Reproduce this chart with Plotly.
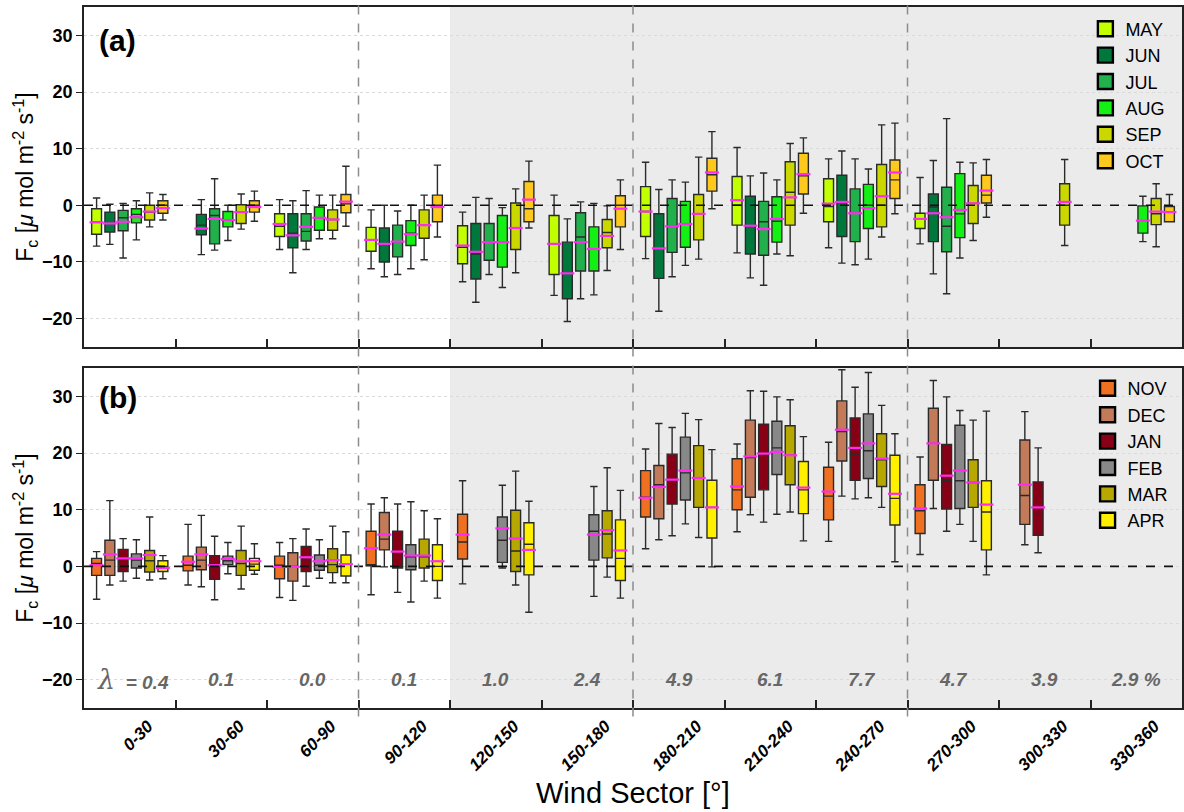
import plotly.graph_objects as go

# ---------------- data ----------------
SECTORS = ["0-30", "30-60", "60-90", "90-120", "120-150", "150-180",
           "180-210", "210-240", "240-270", "270-300", "300-330", "330-360"]
LAMBDA = ["0.4", "0.1", "0.0", "0.1", "1.0", "2.4", "4.9", "6.1", "7.7", "4.7", "3.9", "2.9 %"]

MONTHS_A = ["MAY", "JUN", "JUL", "AUG", "SEP", "OCT"]
COLORS_A = ["#c2ff00", "#00783c", "#22b04c", "#14ef14", "#cbd800", "#ffc81c"]
MONTHS_B = ["NOV", "DEC", "JAN", "FEB", "MAR", "APR"]
COLORS_B = ["#ef7020", "#c27a58", "#870016", "#888888", "#b6a800", "#fff000"]

# each entry: (lower whisker, q1, median, q3, upper whisker, mean); None = no data
MAY = [(-7.2, -5.1, -3.0, -0.6, 1.3, -3.0), None, (-7.8, -5.5, -3.7, -1.5, 1.0, -3.3),
       (-11.2, -8.1, -6.1, -3.9, -0.8, -6.1), (-13.5, -10.3, -7.4, -3.6, -1.2, -7.1),
       (-15.9, -12.2, -6.8, -1.8, 1.8, -6.8), (-9.4, -5.5, -1.1, 3.3, 7.6, -1.1),
       (-8.4, -3.5, 0.0, 5.1, 10.2, 0.9), (-7.5, -2.9, -0.2, 4.7, 8.2, 0.3),
       (-6.8, -4.1, -2.4, -1.4, 4.9, -2.4), None, None]
JUN = [(-6.9, -4.7, -3.2, -1.2, 0.2, -3.2), (-8.7, -5.2, -3.5, -1.6, 1.0, -4.1),
       (-11.9, -7.5, -4.9, -1.5, 0.8, -5.3), (-12.6, -10.0, -6.8, -4.0, 0.0, -6.8),
       (-17.1, -13.0, -8.6, -3.2, 1.4, -8.2), (-20.5, -16.5, -12.0, -6.5, -2.4, -12.0),
       (-18.7, -12.9, -7.6, -1.5, 2.8, -7.6), (-12.8, -8.6, -3.6, 1.6, 5.2, -3.6),
       (-10.2, -5.5, 0.6, 5.3, 9.6, 0.6), (-12.1, -6.4, -0.3, 2.0, 7.9, -1.4), None, None]
JUL = [(-9.3, -4.5, -2.2, -0.9, 0.35, -2.9), (-7.9, -6.8, -1.8, -0.6, 4.7, -2.4),
       (-7.8, -6.3, -4.6, -1.5, 2.6, -3.8), (-12.2, -9.1, -6.4, -3.5, -1.0, -6.4),
       (-12.2, -9.7, -6.4, -3.2, 1.2, -6.5), (-16.5, -11.6, -5.6, -1.3, 0.6, -6.5),
       (-12.6, -8.3, -3.7, 1.2, 4.5, -3.7), (-14.1, -8.8, -2.9, 0.7, 5.7, -4.2),
       (-10.5, -6.4, -1.4, 2.9, 8.2, -1.4), (-15.6, -8.2, -3.7, 3.2, 15.3, -2.1), None, None]
AUG = [(-6.1, -3.1, -1.6, -0.6, 0.8, -2.1), (-6.2, -3.8, -2.6, -1.1, 0.0, -2.6),
       (-5.9, -4.4, -2.2, -0.3, 1.8, -2.2), (-11.2, -7.1, -4.9, -2.7, 0.0, -5.1),
       (-14.5, -10.9, -6.5, -1.8, -0.4, -6.5), (-15.8, -11.6, -7.7, -3.8, 0.35, -7.7),
       (-10.6, -7.4, -3.3, 0.7, 4.1, -3.3), (-8.6, -6.5, -2.8, 1.5, 4.5, -2.4),
       (-9.5, -4.1, 0.0, 3.7, 6.4, -0.5), (-9.3, -5.7, -1.5, 5.6, 7.6, -0.8), None,
       (-6.4, -4.9, -2.7, -0.1, 1.6, -2.7)]
SEP = [(-3.8, -2.6, -1.2, 0.0, 2.2, -1.1), (-4.2, -3.2, -1.2, 0.1, 2.0, -1.2),
       (-5.9, -4.4, -2.5, -0.8, 1.8, -2.5), (-9.6, -5.8, -3.5, -0.8, 1.8, -3.5),
       (-11.9, -7.8, -4.0, 0.4, 2.9, -4.0), (-11.5, -7.5, -4.8, -2.5, -0.1, -5.4),
       (-9.5, -6.1, -1.5, 1.9, 8.5, -1.5), (-8.9, -3.5, 2.3, 7.7, 10.9, 1.4),
       (-5.6, -3.8, 0.0, 7.2, 14.2, 1.6), (-6.2, -3.2, 0.35, 3.5, 7.5, 0.35),
       (-7.1, -3.5, 0.0, 3.8, 8.1, 0.6), (-7.3, -3.4, -1.5, 1.2, 3.8, -1.1)]
OCT = [(-2.6, -1.4, 0.0, 0.8, 1.9, -0.5), (-2.8, -1.2, 0.0, 0.8, 2.5, -0.3),
       (-3.7, -1.3, 0.25, 1.9, 6.9, 0.65), (-5.6, -2.9, 0.0, 1.8, 7.1, -0.3),
       (-4.0, -2.9, -0.6, 4.2, 7.8, 1.0), (-7.8, -3.8, 0.0, 1.7, 4.5, -0.6),
       (-0.6, 2.5, 5.4, 8.3, 13.0, 5.8), (-1.4, 2.0, 5.2, 9.2, 11.9, 5.5),
       (-1.5, 1.2, 4.5, 8.0, 14.5, 5.8), (-2.1, 0.4, 1.8, 5.3, 8.1, 2.6), None,
       (-2.9, -2.9, -1.2, -0.2, 1.9, -1.2)]

NOV = [(-5.8, -1.6, 0.5, 1.4, 2.6, 0.2), (-3.3, -0.8, 0.2, 1.8, 7.4, 0.8),
       (-5.5, -2.2, 0.2, 1.8, 4.2, -0.1), (-5.0, 0.1, 0.2, 6.2, 11.0, 3.2),
       (-3.1, 1.3, 4.3, 9.2, 15.1, 5.6), None, (3.1, 8.7, 12.2, 16.9, 20.7, 12.1),
       (6.1, 10.0, 13.5, 19.0, 21.6, 14.1), (4.4, 8.2, 12.4, 17.5, 21.9, 13.2),
       (2.1, 5.8, 9.8, 14.4, 19.3, 10.2), None, None]
DEC = [(-3.3, -1.6, 1.1, 4.6, 11.6, 2.1), (-3.6, -0.6, 1.1, 3.4, 9.0, 2.1),
       (-6.0, -2.6, 0.0, 2.4, 4.9, -0.1), (-0.1, 2.9, 4.8, 9.5, 12.1, 5.6), None, None,
       (4.7, 8.4, 14.4, 17.8, 25.2, 14.0), (9.1, 12.2, 19.2, 25.8, 31.0, 19.4),
       (12.4, 18.6, 23.8, 29.2, 34.7, 24.1), (10.2, 15.2, 21.7, 27.9, 32.8, 21.7),
       (3.8, 7.4, 12.5, 22.3, 27.3, 14.4), None]
JAN = [(-2.6, -0.9, 1.4, 3.0, 4.9, 1.4), (-5.9, -2.3, 0.2, 1.9, 5.3, 0.2),
       (-3.5, -0.9, 1.2, 3.5, 6.6, 1.6), (-4.6, -0.3, 0.0, 6.2, 11.0, 2.6), None, None,
       (5.4, 11.0, 15.3, 19.8, 24.5, 15.3), (7.8, 13.5, 19.9, 25.1, 30.9, 19.9),
       (11.9, 15.2, 19.8, 26.2, 31.6, 20.9), (6.2, 10.1, 15.1, 21.5, 29.9, 16.0),
       (2.4, 5.5, 9.3, 14.9, 20.9, 10.4), None]
FEB = [(-2.1, -0.3, 1.1, 2.2, 4.7, 1.4), (-1.3, 0.3, 1.0, 1.8, 4.2, 1.3),
       (-2.1, -0.7, 0.2, 2.0, 4.7, 0.9), (-6.3, -0.6, 1.7, 3.8, 11.4, 1.9),
       (-0.3, 0.7, 4.6, 8.7, 14.3, 6.7), (-5.3, 1.1, 6.2, 9.1, 14.1, 5.6),
       (7.5, 11.7, 16.5, 22.8, 27.0, 16.9), (9.2, 16.2, 20.9, 25.6, 29.9, 20.2),
       (12.1, 15.5, 20.4, 26.9, 34.2, 21.7), (7.4, 10.2, 15.1, 24.9, 27.5, 16.9), None, None]
MAR = [(-2.4, -1.0, 1.0, 2.8, 8.7, 2.0), (-4.0, -1.6, 0.5, 2.8, 7.1, 0.9),
       (-2.9, -1.1, 0.3, 3.1, 7.1, 1.1), (-2.6, -0.3, 1.7, 4.8, 9.8, 1.9),
       (-3.3, -0.9, 2.7, 9.9, 16.8, 4.9), (-1.9, 1.5, 5.7, 9.8, 17.4, 6.4),
       (5.1, 10.4, 15.6, 21.3, 25.9, 15.6), (9.6, 14.4, 19.6, 24.8, 29.4, 19.6),
       (10.4, 14.1, 18.8, 23.4, 28.4, 19.0), (4.4, 10.4, 14.8, 18.8, 25.8, 14.8), None, None]
APR = [(-2.2, -0.9, 0.0, 1.0, 1.9, -0.3), (-1.4, -0.7, 0.4, 1.4, 4.0, 0.9),
       (-2.9, -1.7, 0.4, 2.0, 6.1, 0.4), (-5.6, -2.5, 0.0, 3.8, 8.4, 0.9),
       (-8.1, -1.5, 3.9, 7.7, 11.5, 2.9), (-5.6, -2.5, 1.4, 8.2, 13.4, 2.8),
       (-0.1, 5.0, 10.4, 15.2, 20.6, 10.4), (4.5, 9.3, 13.5, 18.5, 22.9, 13.9),
       (0.8, 7.3, 12.0, 19.6, 23.4, 12.8), (-1.5, 2.9, 9.6, 15.1, 27.4, 10.9), None, None]

DATA_A = [MAY, JUN, JUL, AUG, SEP, OCT]
DATA_B = [NOV, DEC, JAN, FEB, MAR, APR]

# ---------------- styling ----------------
STEP = 0.145
BW = 0.108
LABEL_SHIFT = 0.2
FONT = "Liberation Sans, Arial, sans-serif"
SHADE = "#ebebeb"

fig = go.Figure()


def add_panel(months, colors, data, xa, ya, legend):
    for k, (m, c, series) in enumerate(zip(months, colors, data)):
        idx = [i for i, d in enumerate(series) if d is not None]
        xs = [i + 0.5 + (k - 2.5) * STEP for i in idx]
        vals = [series[i] for i in idx]
        fig.add_trace(go.Box(
            x=xs, lowerfence=[v[0] for v in vals], q1=[v[1] for v in vals],
            median=[v[2] for v in vals], q3=[v[3] for v in vals],
            upperfence=[v[4] for v in vals], width=BW, whiskerwidth=0.75,
            fillcolor=c, line=dict(color="#2a2a2a", width=1.4), boxpoints=False,
            xaxis=xa, yaxis=ya, showlegend=False, name=m))
        fig.add_trace(go.Scatter(
            x=xs, y=[v[5] for v in vals], mode="markers",
            marker=dict(symbol="line-ew", size=10, color="#ff2bf0",
                        line=dict(color="#ff2bf0", width=2.2)),
            xaxis=xa, yaxis=ya, showlegend=False, hoverinfo="skip"))
        fig.add_trace(go.Scatter(
            x=[None], y=[None], mode="markers", name=m, legend=legend,
            marker=dict(symbol="square", size=15, color=c,
                        line=dict(color="black", width=2.4)),
            xaxis=xa, yaxis=ya))


add_panel(MONTHS_A, COLORS_A, DATA_A, "x", "y", "legend")
add_panel(MONTHS_B, COLORS_B, DATA_B, "x2", "y2", "legend2")

label_pos = [i + 0.5 + LABEL_SHIFT for i in range(12)]
xcommon = dict(range=[0, 12], showline=True, mirror=True, linecolor="#222",
               linewidth=1.5, showgrid=False, zeroline=False, ticks="",
               minor=dict(tickvals=list(range(1, 12)), ticks="inside",
                          ticklen=8, tickwidth=1.5, tickcolor="#222"))
ycommon = dict(range=[-25, 35], tickvals=[-20, -10, 0, 10, 20, 30],
               ticks="outside", ticklen=6, tickwidth=1.3, tickcolor="#222",
               tickfont=dict(family=FONT, size=18, color="black", weight="bold"),
               showline=True, mirror=True, linecolor="#222", linewidth=1.5,
               showgrid=True, gridcolor="#dadada", griddash="dot", gridwidth=1,
               zeroline=False)

shapes = []
for xa, ya in (("x", "y"), ("x2", "y2")):
    shapes.append(dict(type="rect", xref=xa, yref=ya + " domain", x0=4, x1=12,
                       y0=0, y1=1, fillcolor=SHADE, line=dict(width=0),
                       layer="below"))
    shapes.append(dict(type="line", xref=xa + " domain", yref=ya, x0=0, x1=1,
                       y0=0, y1=0, line=dict(color="#111", width=1.6, dash="dash"),
                       layer="above"))
for xv in (3, 6, 9):
    shapes.append(dict(type="line", xref="x2", yref="paper", x0=xv, x1=xv,
                       y0=-0.012, y1=1.008,
                       line=dict(color="#8c8c8c", width=1.5, dash="dash"),
                       layer="above"))

annotations = []
annotations.append(dict(text="<b>(a)</b>", xref="x domain", yref="y domain",
                        x=0.012, y=0.9, xanchor="left", yanchor="middle",
                        showarrow=False, font=dict(family=FONT, size=30, color="black")))
annotations.append(dict(text="<b>(b)</b>", xref="x2 domain", yref="y2 domain",
                        x=0.012, y=0.912, xanchor="left", yanchor="middle",
                        showarrow=False, font=dict(family=FONT, size=30, color="black")))
ytitle = "F<sub>c</sub> [<i>μ</i> mol m<sup>-2</sup> s<sup>-1</sup>]"
for ya in ("y", "y2"):
    annotations.append(dict(text=ytitle, xref="paper", yref=ya + " domain",
                            x=-0.054, y=0.5, xanchor="center", yanchor="middle",
                            textangle=-90, showarrow=False,
                            font=dict(family=FONT, size=23, color="black")))
for i, lab in enumerate(LAMBDA):
    txt = lab
    xoff = 0.0
    if i == 0:
        txt = ('<span style="font-family:DejaVu Serif;font-size:27px;'
               'font-weight:normal">λ</span>  = ' + lab)
        xoff = 0.04
    annotations.append(dict(text=txt, xref="x2", yref="y2", x=i + 0.5 + xoff,
                            y=-20, xanchor="center", yanchor="middle",
                            showarrow=False,
                            font=dict(family=FONT, size=19, color="#676767",
                                      weight="bold", style="italic")))
annotations.append(dict(text="Wind Sector [°]", xref="paper", yref="paper",
                        x=0.5, y=-0.121, xanchor="center", yanchor="middle",
                        showarrow=False,
                        font=dict(family=FONT, size=29, color="black")))

fig.update_layout(
    width=1184, height=812,
    margin=dict(l=84, r=0, t=7, b=104),
    paper_bgcolor="white", plot_bgcolor="white",
    boxmode="overlay",
    font=dict(family=FONT),
    xaxis=dict(domain=[0, 1], anchor="y", showticklabels=False,
               tickmode="array", tickvals=[], **xcommon),
    xaxis2=dict(domain=[0, 1], anchor="y2", showticklabels=True,
                tickmode="array", tickvals=label_pos,
                ticktext=SECTORS, tickangle=-45,
                tickfont=dict(family=FONT, size=17, color="black",
                              weight="bold", style="italic"), **xcommon),
    yaxis=dict(domain=[0.515, 1.0], anchor="x", **ycommon),
    yaxis2=dict(domain=[0.0, 0.485], anchor="x2", **ycommon),
    legend=dict(x=0.912, y=0.995, xanchor="left", yanchor="top",
                bgcolor="rgba(0,0,0,0)", font=dict(family=FONT, size=18, color="black"),
                tracegroupgap=0, itemsizing="trace"),
    legend2=dict(x=0.914, y=0.482, xanchor="left", yanchor="top",
                 bgcolor="rgba(0,0,0,0)", font=dict(family=FONT, size=18, color="black"),
                 tracegroupgap=0, itemsizing="trace"),
    shapes=shapes,
    annotations=annotations,
)

fig.write_html("out.html")
